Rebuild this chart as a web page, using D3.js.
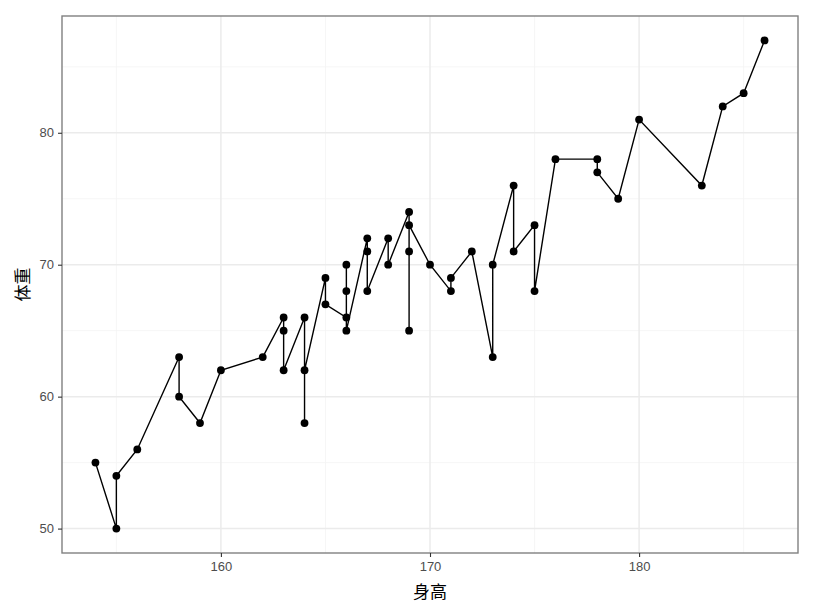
<!DOCTYPE html>
<html>
<head>
<meta charset="utf-8">
<script src="https://cdn.jsdelivr.net/npm/d3@7"></script>
<style>
body { margin: 0; background: #fff; }
svg { display: block; }
</style>
</head>
<body>
<script>
// heights (cm) and weights (kg), in the order the line visits them
var heights = [154, 155, 155, 156, 158, 158, 159, 160, 162,
    163, 163, 163, 164, 164, 164, 165, 165,
    166, 166, 166, 166, 167, 167, 167, 168, 168,
    169, 169, 169, 169, 170, 171, 171, 172, 173, 173,
    174, 174, 175, 175, 176, 178, 178, 179, 180,
    183, 184, 185, 186];
var weights = [55, 50, 54, 56, 63, 60, 58, 62, 63,
    66, 65, 62, 66, 58, 62, 69, 67,
    66, 70, 68, 65, 72, 71, 68, 72, 70,
    74, 71, 65, 73, 70, 68, 69, 71, 63, 70,
    76, 71, 73, 68, 78, 78, 77, 75, 81,
    76, 82, 83, 87];
var xTicks = [160, 170, 180];
var xMinor = [155, 165, 175, 185];
var yTicks = [50, 60, 70, 80];
var yMinor = [55, 65, 75, 85];
var xTitle = "身高";
var yTitle = "体重";

var width = 838, height = 613;
var margin = {top: 16, right: 40, bottom: 60, left: 62};
var w = width - margin.left - margin.right;
var h = height - margin.top - margin.bottom;

var points = heights.map(function (d, i) { return {x: d, y: weights[i]}; });

var svg = d3.select("body").append("svg")
    .attr("width", width)
    .attr("height", height);

var g = svg.append("g")
    .attr("transform", "translate(" + margin.left + "," + margin.top + ")");

// ggplot style 5% expansion
var xr = d3.extent(heights), yr = d3.extent(weights);
var xp = (xr[1] - xr[0]) * 0.05, yp = (yr[1] - yr[0]) * 0.05;
var x = d3.scaleLinear().domain([xr[0] - xp, xr[1] + xp]).range([0, w]);
var y = d3.scaleLinear().domain([yr[0] - yp, yr[1] + yp]).range([h, 0]);

// grid
g.selectAll(".xminor").data(xMinor).enter().append("line")
    .attr("x1", function (d) { return x(d); }).attr("x2", function (d) { return x(d); })
    .attr("y1", 0).attr("y2", h)
    .attr("stroke", "#f4f4f4").attr("stroke-width", 0.8);
g.selectAll(".yminor").data(yMinor).enter().append("line")
    .attr("y1", function (d) { return y(d); }).attr("y2", function (d) { return y(d); })
    .attr("x1", 0).attr("x2", w)
    .attr("stroke", "#f4f4f4").attr("stroke-width", 0.8);
g.selectAll(".xmajor").data(xTicks).enter().append("line")
    .attr("x1", function (d) { return x(d); }).attr("x2", function (d) { return x(d); })
    .attr("y1", 0).attr("y2", h)
    .attr("stroke", "#ebebeb").attr("stroke-width", 1.5);
g.selectAll(".ymajor").data(yTicks).enter().append("line")
    .attr("y1", function (d) { return y(d); }).attr("y2", function (d) { return y(d); })
    .attr("x1", 0).attr("x2", w)
    .attr("stroke", "#ebebeb").attr("stroke-width", 1.5);

// line + points
var line = d3.line()
    .x(function (d) { return x(d.x); })
    .y(function (d) { return y(d.y); });

g.append("path")
    .datum(points)
    .attr("d", line)
    .attr("fill", "none")
    .attr("stroke", "#000")
    .attr("stroke-width", 1.4);

g.selectAll("circle").data(points).enter().append("circle")
    .attr("cx", function (d) { return x(d.x); })
    .attr("cy", function (d) { return y(d.y); })
    .attr("r", 3.9)
    .attr("fill", "#000");

// border
g.append("rect")
    .attr("width", w).attr("height", h)
    .attr("fill", "none")
    .attr("stroke", "#808080").attr("stroke-width", 1.4);

// axes
var xAxis = g.append("g")
    .attr("transform", "translate(0," + h + ")")
    .call(d3.axisBottom(x).tickValues(xTicks).tickSize(4).tickPadding(5));
var yAxis = g.append("g")
    .call(d3.axisLeft(y).tickValues(yTicks).tickSize(4).tickPadding(4));

[xAxis, yAxis].forEach(function (a) {
    a.select(".domain").remove();
    a.selectAll(".tick line").attr("stroke", "#333").attr("stroke-width", 1.1);
    a.selectAll(".tick text")
        .attr("fill", "#4d4d4d")
        .style("font-family", "'Liberation Sans', Arial, sans-serif")
        .style("font-size", "13px");
});

svg.append("text")
    .attr("x", margin.left + w / 2)
    .attr("y", 598)
    .attr("text-anchor", "middle")
    .style("font-family", "'Noto Sans CJK SC', sans-serif")
    .style("font-size", "17px")
    .attr("fill", "#000")
    .text(xTitle);

svg.append("text")
    .attr("transform", "translate(29," + (margin.top + h / 2) + ") rotate(-90)")
    .attr("text-anchor", "middle")
    .style("font-family", "'Noto Sans CJK SC', sans-serif")
    .style("font-size", "17px")
    .attr("fill", "#000")
    .text(yTitle);
</script>
</body>
</html>
